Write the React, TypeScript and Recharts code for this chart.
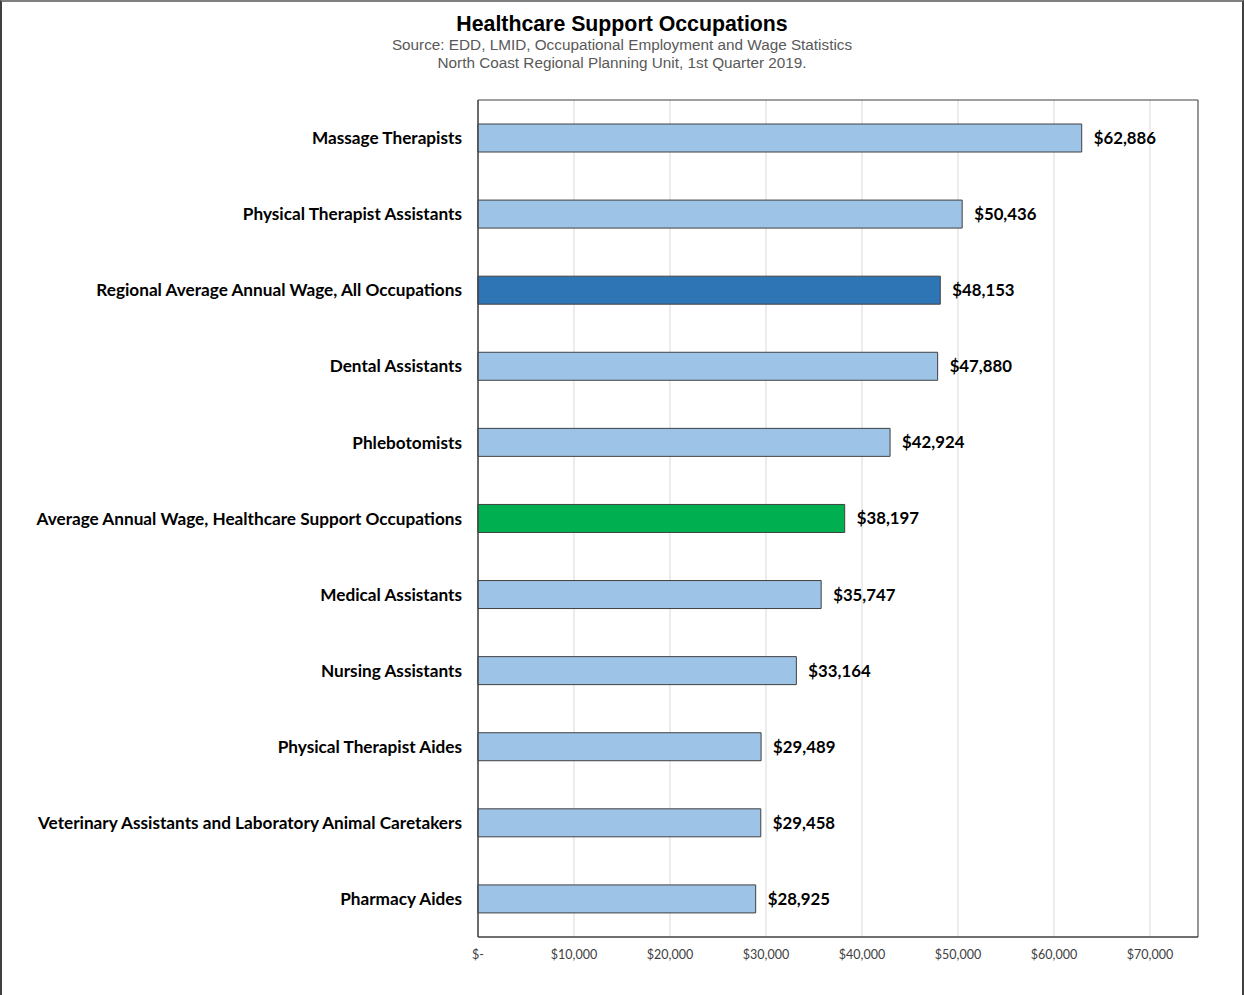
import React from 'react';
import {
  BarChart,
  Bar,
  XAxis,
  YAxis,
  CartesianGrid,
  Cell,
  LabelList,
  ReferenceArea
} from 'recharts';

const occupations = [
  'Massage Therapists',
  'Physical Therapist Assistants',
  'Regional Average Annual Wage, All Occupations',
  'Dental Assistants',
  'Phlebotomists',
  'Average Annual Wage, Healthcare Support Occupations',
  'Medical Assistants',
  'Nursing Assistants',
  'Physical Therapist Aides',
  'Veterinary Assistants and Laboratory Animal Caretakers',
  'Pharmacy Aides'
];

const wages = [62886, 50436, 48153, 47880, 42924, 38197, 35747, 33164, 29489, 29458, 28925];

const barColors = [
  '#9DC3E6', '#9DC3E6', '#2E75B6', '#9DC3E6', '#9DC3E6', '#00B050',
  '#9DC3E6', '#9DC3E6', '#9DC3E6', '#9DC3E6', '#9DC3E6'
];

const xTicks = [0, 10000, 20000, 30000, 40000, 50000, 60000, 70000];

const data = occupations.map((name, i) => ({ name, wage: wages[i] }));

const money = (v: number) => (v === 0 ? '$-' : '$' + v.toLocaleString('en-US'));

export default function App() {
  return (
    <div
      style={{
        position: 'absolute',
        left: 0,
        top: 0,
        width: 1244,
        height: 995,
        boxSizing: 'border-box',
        borderTop: '2px solid #7f7f7f',
        borderLeft: '2px solid #404040',
        borderRight: '2px solid #404040',
        background: '#fff',
        overflow: 'hidden'
      }}
    >
      <div
        style={{
          position: 'absolute',
          left: -2,
          top: 10,
          width: 1244,
          textAlign: 'center',
          fontFamily: 'Liberation Sans, Arial, sans-serif'
        }}
      >
        <div style={{ fontSize: 21.3, fontWeight: 'bold', color: '#000', lineHeight: '24px' }}>
          Healthcare Support Occupations
        </div>
        <div style={{ fontSize: 15.3, color: '#595959', lineHeight: '18px' }}>
          Source: EDD, LMID, Occupational Employment and Wage Statistics
        </div>
        <div style={{ fontSize: 15.3, color: '#595959', lineHeight: '17px' }}>
          North Coast Regional Planning Unit, 1st Quarter 2019.
        </div>
      </div>
      <div style={{ position: 'absolute', left: -2, top: -2 }}>
        <BarChart
          width={1244}
          height={995}
          data={data}
          layout="vertical"
          margin={{ top: 100, right: 46, bottom: 0, left: 0 }}
          barSize={28}
        >
          <CartesianGrid horizontal={false} stroke="#d9d9d9" />
          <XAxis
            type="number"
            domain={[0, 75000]}
            ticks={xTicks}
            tickFormatter={money}
            axisLine={{ stroke: '#404040' }}
            tickLine={false}
            height={58}
            tick={{ fill: '#404040', fontSize: 12.5, fontFamily: 'Lato, sans-serif' }}
            tickMargin={7}
          />
          <YAxis
            type="category"
            dataKey="name"
            width={478}
            axisLine={{ stroke: '#404040' }}
            tickLine={false}
            tickMargin={10}
            interval={0}
            tick={{ fill: '#000', fontSize: 17.2, fontWeight: 'bold', fontFamily: 'Lato, sans-serif' }}
          />
          <ReferenceArea x1={0} x2={75000} fill="none" stroke="#404040" strokeWidth={1} />
          <Bar dataKey="wage" stroke="#404040" strokeWidth={1} isAnimationActive={false}>
            {data.map((d, i) => (
              <Cell key={d.name} fill={barColors[i]} />
            ))}
            <LabelList
              dataKey="wage"
              position="right"
              offset={12}
              formatter={(v: any) => money(Number(v))}
              style={{ fill: '#000', fontSize: 16.8, fontWeight: 'bold', fontFamily: 'Lato, sans-serif' }}
            />
          </Bar>
        </BarChart>
      </div>
    </div>
  );
}
